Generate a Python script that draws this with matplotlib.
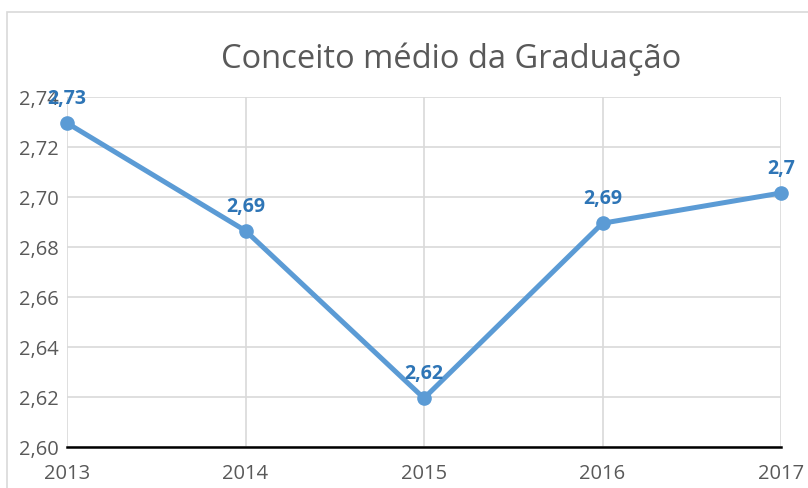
import matplotlib
import matplotlib.pyplot as plt
from matplotlib.patches import Rectangle

matplotlib.use("Agg")

years = ["2013", "2014", "2015", "2016", "2017"]
values = [2.7296, 2.6865, 2.6195, 2.6895, 2.7016]
labels = ["2,73", "2,69", "2,62", "2,69", "2,7"]
yticks = [2.60, 2.62, 2.64, 2.66, 2.68, 2.70, 2.72, 2.74]

W, H = 808, 488
fig = plt.figure(figsize=(W / 100, H / 100), dpi=100, facecolor="white")
ax = fig.add_axes([67 / W, 41 / H, (781 - 67) / W, 350 / H])

# chart area border (cropped at right/bottom)
fig.patches.append(
    Rectangle((7 / W, -0.1), 1.2, (488 - 12) / H + 0.1, transform=fig.transFigure,
              fill=False, edgecolor="#d9d9d9", linewidth=1.2)
)

x = list(range(len(years)))
ax.plot(x, values, color="#5b9bd5", linewidth=3.6, marker="o", markersize=9.5,
        solid_capstyle="round", zorder=3, clip_on=False)

for xi, v, lab in zip(x, values, labels):
    ax.annotate(lab, (xi, v), xytext=(0, 10), textcoords="offset points",
                ha="center", va="bottom", color="#2e75b6", fontsize=14,
                fontweight="bold", family="Open Sans", zorder=4,
                annotation_clip=False)

ax.set_xlim(0, 4)
ax.set_ylim(2.60, 2.74)
ax.set_yticks(yticks)
ax.set_yticklabels([f"{t:.2f}".replace(".", ",") for t in yticks])
ax.set_xticks(x)
ax.set_xticklabels(years)

ax.grid(True, color="#d9d9d9", linewidth=1.2)
ax.set_axisbelow(True)
for s in ["top", "right", "left"]:
    ax.spines[s].set_visible(False)
ax.spines["bottom"].set_color("black")
ax.spines["bottom"].set_linewidth(1.8)
ax.spines["bottom"].set_zorder(2)
ax.tick_params(length=0, labelsize=14.5, colors="#595959")
ax.tick_params(axis="x", pad=12)
ax.tick_params(axis="y", pad=6)
for t in ax.get_xticklabels() + ax.get_yticklabels():
    t.set_family("Open Sans")

fig.text(451 / W, 1 - 59 / H, "Conceito médio da Graduação", ha="center",
         va="center", fontsize=23.5, color="#595959", family="Open Sans")

plt.savefig("out.png", dpi=100, facecolor="white")
plt.close()
